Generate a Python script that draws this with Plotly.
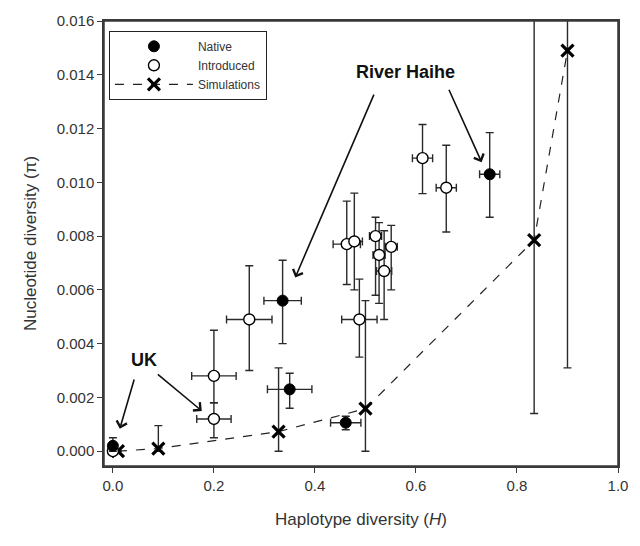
import plotly.graph_objects as go

# Native populations
nat_x = [0.0, 0.336, 0.35, 0.461, 0.746]
nat_y = [0.0002, 0.0056, 0.0023, 0.00106, 0.0103]
nat_xerr = [0.0, 0.037, 0.044, 0.03, 0.02]
nat_yup = [0.0005, 0.0071, 0.0029, 0.0013, 0.01185]
nat_ylo = [0.0, 0.0040, 0.0016, 0.0008, 0.0087]

# Introduced populations
int_x = [0.0, 0.2, 0.2, 0.27, 0.463, 0.478, 0.488, 0.52, 0.527, 0.537, 0.551, 0.613, 0.66]
int_y = [0.0, 0.0028, 0.0012, 0.0049, 0.0077, 0.0078, 0.0049, 0.0080, 0.0073, 0.0067, 0.0076, 0.0109, 0.0098]
int_xerr = [0.0, 0.044, 0.034, 0.045, 0.027, 0.016, 0.035, 0.012, 0.012, 0.015, 0.012, 0.02, 0.02]
int_yup = [0.0002, 0.0045, 0.0018, 0.0069, 0.0093, 0.0096, 0.0064, 0.0087, 0.0085, 0.0082, 0.0084, 0.01215, 0.01138]
int_ylo = [0.0, 0.0018, 0.0005, 0.0030, 0.0062, 0.0060, 0.0035, 0.0058, 0.0055, 0.0049, 0.0060, 0.00958, 0.00815]

# Simulations
sim_x = [0.01, 0.09, 0.328, 0.5, 0.834, 0.9]
sim_y = [0.0, 0.0001, 0.00073, 0.00158, 0.00785, 0.0149]
sim_yup = [0.0, 0.00095, 0.0031, 0.0056, 0.02, 0.02]
sim_ylo = [0.0, 0.0, 0.0, 0.0, 0.0014, 0.0031]

ERR = "#2a2a2a"
FONT = "Liberation Sans, Arial, sans-serif"


def ebar_y(y, up, lo):
    return dict(type="data", symmetric=False,
                array=[u - v for u, v in zip(up, y)],
                arrayminus=[v - l for v, l in zip(y, lo)],
                color=ERR, thickness=1.4, width=4)


def ebar_x(xe):
    return dict(type="data", array=xe, color=ERR, thickness=1.4, width=4)


fig = go.Figure()

fig.add_trace(go.Scatter(
    x=sim_x, y=sim_y, mode="lines+markers", name="Simulations",
    line=dict(color="#222222", width=1.2, dash="dash"),
    marker=dict(symbol="x-thin", size=12, line=dict(width=3.2, color="black"), color="black"),
    error_y=ebar_y(sim_y, sim_yup, sim_ylo), cliponaxis=True,
))

fig.add_trace(go.Scatter(
    x=int_x, y=int_y, mode="markers", name="Introduced",
    marker=dict(symbol="circle", size=11, color="white", line=dict(width=1.4, color="black")),
    error_x=ebar_x(int_xerr), error_y=ebar_y(int_y, int_yup, int_ylo), cliponaxis=True,
))

fig.add_trace(go.Scatter(
    x=nat_x, y=nat_y, mode="markers", name="Native",
    marker=dict(symbol="circle", size=11, color="black", line=dict(width=1, color="black")),
    error_x=ebar_x(nat_xerr), error_y=ebar_y(nat_y, nat_yup, nat_ylo), cliponaxis=True,
))

# Annotations
arrow_kw = dict(xref="x", yref="y", axref="x", ayref="y", showarrow=True,
                arrowhead=4, arrowsize=1.3, arrowwidth=1.6, arrowcolor="#111111", text="")
fig.add_annotation(x=0.361, y=0.00646, ax=0.518, ay=0.01332, **arrow_kw)
fig.add_annotation(x=0.730, y=0.01075, ax=0.664, ay=0.01350, **arrow_kw)
fig.add_annotation(x=0.0137, y=0.00084, ax=0.043, ay=0.00272, **arrow_kw)
fig.add_annotation(x=0.176, y=0.0015, ax=0.086, ay=0.0029, **arrow_kw)
fig.add_annotation(x=0.58, y=0.01409, xref="x", yref="y", text="<b>River Haihe</b>",
                   showarrow=False, font=dict(size=18, color="#111111", family=FONT))
fig.add_annotation(x=0.0625, y=0.00341, xref="x", yref="y", text="<b>UK</b>",
                   showarrow=False, font=dict(size=18, color="#111111", family=FONT))

# plot frame
fig.add_shape(type="rect", xref="paper", yref="paper", x0=0, y0=0, x1=1, y1=1,
              line=dict(color="#3a3a3a", width=1.5), fillcolor="rgba(0,0,0,0)", layer="above")

fig.update_layout(
    width=640, height=546,
    margin=dict(l=104, r=15, t=15, b=80),
    paper_bgcolor="white", plot_bgcolor="white",
    font=dict(family=FONT, color="#333333"),
    showlegend=True,
    legend=dict(x=0.0096, y=0.978, xanchor="left", yanchor="top",
                bordercolor="#222222", borderwidth=1, bgcolor="white",
                font=dict(size=12, color="#333333", family=FONT),
                traceorder="reversed", itemwidth=78, tracegroupgap=0),
    xaxis=dict(range=[-0.0176, 1.0], tickvals=[0, 0.2, 0.4, 0.6, 0.8, 1.0], tickformat=".1f",
               showline=True, linecolor="#3a3a3a", linewidth=1.5, mirror=True,
               ticks="outside", ticklen=5, tickcolor="#3a3a3a", showgrid=False, zeroline=False,
               tickfont=dict(size=15, color="#333333"), ticklabeloverflow="allow",
               title=dict(text="Haplotype diversity (<i>H</i>)", font=dict(size=17, color="#333333"), standoff=20)),
    yaxis=dict(range=[-0.00055, 0.016], tickvals=[0, 0.002, 0.004, 0.006, 0.008, 0.010, 0.012, 0.014, 0.016],
               tickformat=".3f",
               showline=True, linecolor="#3a3a3a", linewidth=1.5, mirror=True,
               ticks="outside", ticklen=5, tickcolor="#3a3a3a", showgrid=False, zeroline=False,
               tickfont=dict(size=15, color="#333333"), ticklabeloverflow="allow",
               title=dict(text="Nucleotide diversity (π)", font=dict(size=17, color="#333333"), standoff=16)),
)

fig.write_html("out.html", config={"displayModeBar": False},
               post_script="document.body.style.margin='0';document.body.style.overflow='hidden';")
